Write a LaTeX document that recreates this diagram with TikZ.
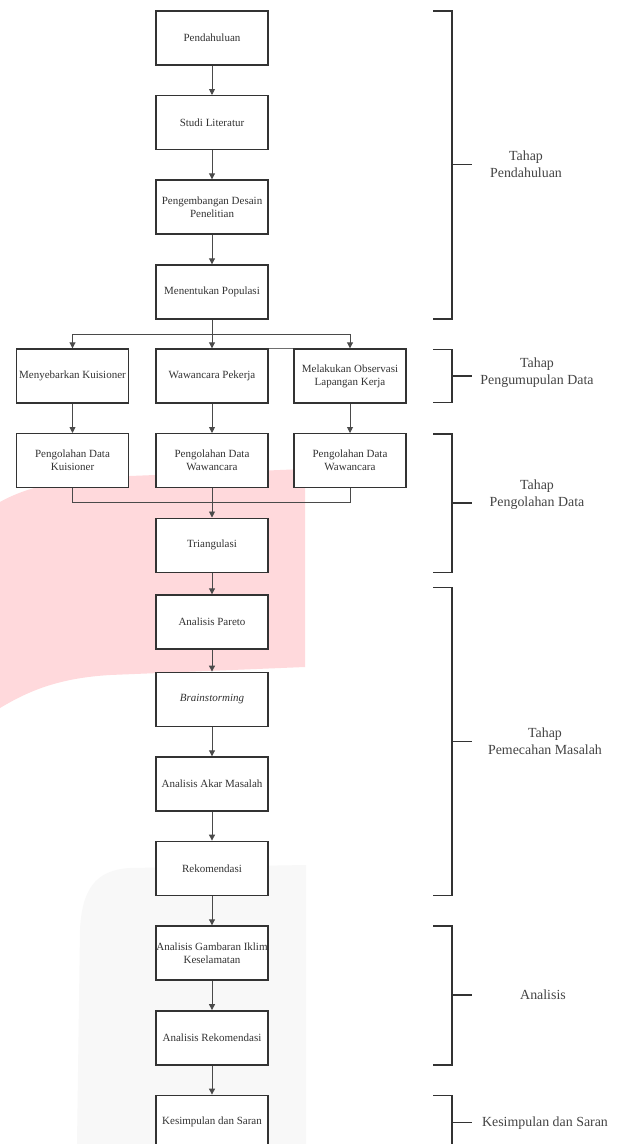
\documentclass[tikz,border=0pt]{standalone}
\usepackage{fontspec}
\setmainfont{Liberation Serif}
\usetikzlibrary{arrows.meta}
\definecolor{boxc}{HTML}{333333}
\definecolor{txtc}{HTML}{333333}
\definecolor{lblc}{HTML}{444444}
\definecolor{linec}{HTML}{4A4A4A}
\definecolor{wmpink}{HTML}{FFD9DC}
\definecolor{wmgray}{HTML}{F8F8F8}
\tikzset{
  box/.style={draw=boxc, line width=1.4pt, fill=white, minimum width=112pt, minimum height=54pt,
    inner sep=0pt, align=center, text=txtc, font=\fontsize{11}{13}\selectfont},
  conn/.style={draw=linec, line width=0.9pt, -{Triangle[length=6pt,width=6pt]}},
  plain/.style={draw=linec, line width=0.9pt},
  thin/.style={draw=linec!80, line width=0.6pt},
  brk/.style={draw=boxc, line width=1.4pt},
  lbl/.style={align=center, text=lblc, inner sep=0pt, font=\fontsize{13.9}{17.3}\selectfont},
}
\begin{document}
\begin{tikzpicture}[x=1pt,y=-1pt]
\useasboundingbox (0,0) rectangle (620,1144);
\fill[white] (0,0) rectangle (620,1144);
% watermark shapes
\fill[wmpink] (0,502) .. controls (30,485) and (70,478) .. (130,476) -- (305,469) -- (305,667)
  -- (110,675) .. controls (60,678) and (30,690) .. (0,708) -- cycle;
\fill[wmgray] (306,865) -- (130,868) .. controls (95,870) and (82,890) .. (80,930) -- (77,1144) -- (306,1144) -- cycle;

% main column
\node[box] (p1) at (212,38) {Pendahuluan};
\node[box] (p2) at (212,122.7) {Studi Literatur};
\node[box] (p3) at (212,207) {Pengembangan Desain\\Penelitian};
\node[box] (p4) at (212,292) {Menentukan Populasi};
\node[box] (ka) at (72.5,376) {Menyebarkan Kuisioner};
\node[box] (wa) at (212,376) {Wawancara Pekerja};
\node[box] (oa) at (350,376) {Melakukan Observasi\\Lapangan Kerja};
\node[box] (kb) at (72.5,460.7) {Pengolahan Data\\Kuisioner};
\node[box] (wb) at (212,460.7) {Pengolahan Data\\Wawancara};
\node[box] (ob) at (350,460.7) {Pengolahan Data\\Wawancara};
\node[box] (tr) at (212,545.2) {Triangulasi};
\node[box] (pa) at (212,622) {Analisis Pareto};
\node[box] (bs) at (212,699.3) {\itshape Brainstorming};
\node[box] (ak) at (212,784) {Analisis Akar Masalah};
\node[box] (rk) at (212,868.3) {Rekomendasi};
\node[box] (ag) at (212,953) {Analisis Gambaran Iklim\\Keselamatan};
\node[box] (ar) at (212,1037.8) {Analisis Rekomendasi};
\node[box] (ks) at (212,1122.3) {Kesimpulan dan Saran};

% connectors
\draw[conn] (p1) -- (p2);
\draw[conn] (p2) -- (p3);
\draw[conn] (p3) -- (p4);
\coordinate (sp) at (212,334);
\draw[conn] (p4) -- (wa);
\draw[conn] (sp) -| (ka);
\draw[conn] (sp) -| (oa);
\draw[thin] (wa.north east) -- (oa.north west);
\draw[conn] (ka) -- (kb);
\draw[conn] (wa) -- (wb);
\draw[conn] (oa) -- (ob);
\coordinate (mg) at (212,502.7);
\draw[plain] (kb.south) |- (mg);
\draw[plain] (ob.south) |- (mg);
\draw[conn] (wb) -- (tr);
\draw[conn] (tr) -- (pa);
\draw[conn] (pa) -- (bs);
\draw[conn] (bs) -- (ak);
\draw[conn] (ak) -- (rk);
\draw[conn] (rk) -- (ag);
\draw[conn] (ag) -- (ar);
\draw[conn] (ar) -- (ks);

% brackets
\draw[brk] (433,11) -- (452,11) -- (452,319) -- (433,319);
\draw[brk] (452,164.5) -- (472,164.5);
\draw[brk] (433,349.3) -- (452,349.3) -- (452,402.7) -- (433,402.7);
\draw[brk] (452,376) -- (472,376);
\draw[brk] (433,434) -- (452,434) -- (452,572.3) -- (433,572.3);
\draw[brk] (452,503) -- (472,503);
\draw[brk] (433,587.7) -- (452,587.7) -- (452,895.7) -- (433,895.7);
\draw[brk] (452,741.7) -- (472,741.7);
\draw[brk] (433,926) -- (452,926) -- (452,1065) -- (433,1065);
\draw[brk] (452,995) -- (472,995);
\draw[brk] (433,1095.7) -- (452,1095.7) -- (452,1150) -- (433,1150);
\draw[brk] (452,1122.7) -- (472,1122.7);

% labels
\node[lbl] (l1) at (526,164.5) {Tahap\\Pendahuluan};
\node[lbl] (l2) at (537,373) {Tahap\\Pengumupulan Data};
\node[lbl] (l3) at (537,495) {Tahap\\Pengolahan Data};
\node[lbl] (l4) at (545,741.5) {Tahap\\Pemecahan Masalah};
\node[lbl] (l5) at (543,995) {Analisis};
\node[lbl] (l6) at (545,1123) {Kesimpulan dan Saran};
\end{tikzpicture}
\end{document}
